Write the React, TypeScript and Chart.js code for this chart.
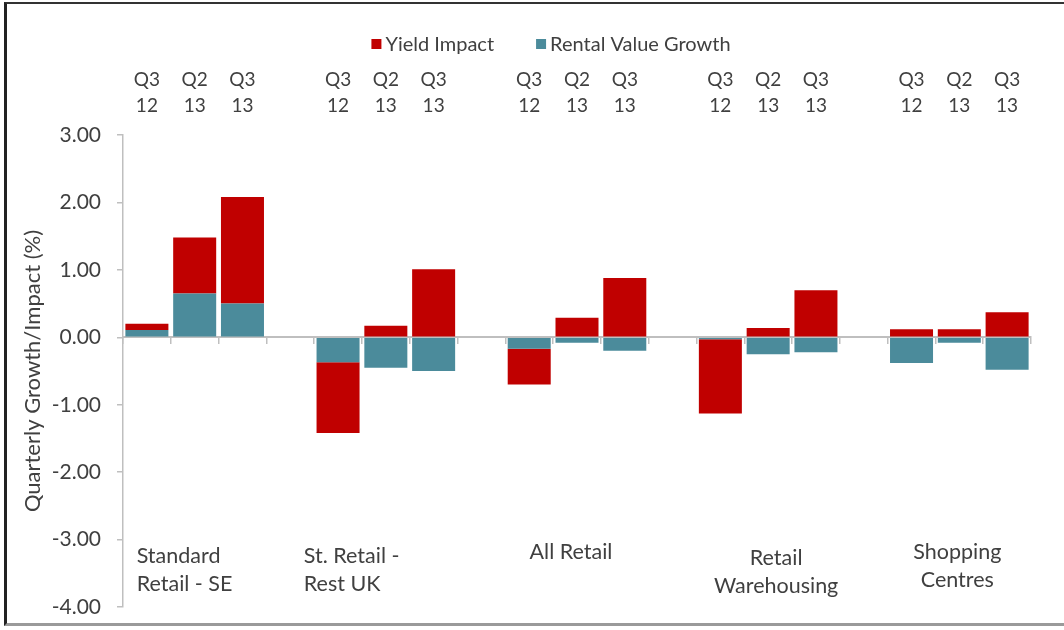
import React, { useEffect, useRef } from 'react';
import { Chart, registerables } from 'chart.js';

Chart.register(...registerables);

// ---- data ----
const periods: string[][] = [['Q3', '12'], ['Q2', '13'], ['Q3', '13']];
const groupNames: string[][] = [
  ['Standard', 'Retail - SE'],
  ['St. Retail -', 'Rest UK'],
  ['All Retail'],
  ['Retail', 'Warehousing'],
  ['Shopping', 'Centres'],
];
// null = blank spacer category between groups
const yieldImpact: (number | null)[] = [
  0.09, 0.83, 1.58, null,
  -1.05, 0.17, 1.01, null,
  -0.53, 0.29, 0.88, null,
  -1.10, 0.14, 0.70, null,
  0.12, 0.12, 0.37,
];
const rentalValueGrowth: (number | null)[] = [
  0.11, 0.65, 0.50, null,
  -0.37, -0.45, -0.50, null,
  -0.17, -0.08, -0.20, null,
  -0.03, -0.25, -0.22, null,
  -0.38, -0.08, -0.48,
];
const yMin = -4;
const yMax = 3;
const yStep = 1;

// ---- styles ----
const FONT = 'Lato';
const TEXT = '#404040';
const AXIS = '#BFBFBF';
const RED = '#C00000';
const TEAL = '#4B8B9B';
const groupLabelStyle = [
  { align: 'left', dx: -58, yVal: -3.24 },
  { align: 'left', dx: -82, yVal: -3.24 },
  { align: 'center', dx: -6, yVal: -3.19 },
  { align: 'center', dx: 8, yVal: -3.27 },
  { align: 'center', dx: -2, yVal: -3.19 },
];
const legendStyle = { centerOffset: -26, y: 44, box: 10, gap: 4, spacing: 42, size: 20 };

// build category labels: 3 periods per group, blank spacer between groups
const labels: (string[] | string)[] = [];
groupNames.forEach((_, gi) => {
  periods.forEach((p) => labels.push(p));
  if (gi < groupNames.length - 1) labels.push('');
});

const groupLabelPlugin = {
  id: 'groupLabels',
  afterDatasetsDraw(chart: any) {
    const { ctx, scales } = chart;
    const x = scales.x;
    const y = scales.y;
    ctx.save();
    ctx.font = `21.5px ${FONT}`;
    ctx.fillStyle = TEXT;
    ctx.textBaseline = 'middle';
    groupNames.forEach((lines, gi) => {
      const st = groupLabelStyle[gi];
      const midIndex = gi * (periods.length + 1) + 1;
      const cx = x.getPixelForValue(midIndex) + st.dx;
      const cy = y.getPixelForValue(st.yVal);
      ctx.textAlign = st.align as CanvasTextAlign;
      lines.forEach((line, li) => {
        ctx.fillText(line, cx, cy + li * 28);
      });
    });
    ctx.restore();
  },
};

const legendPlugin = {
  id: 'customLegend',
  afterDraw(chart: any) {
    const { ctx, chartArea } = chart;
    const items = chart.data.datasets
      .map((d: any) => ({ text: d.label, color: d.backgroundColor }))
      .reverse();
    ctx.save();
    ctx.font = `${legendStyle.size}px ${FONT}`;
    ctx.textBaseline = 'middle';
    ctx.textAlign = 'left';
    const widths = items.map(
      (it: any) => legendStyle.box + legendStyle.gap + ctx.measureText(it.text).width
    );
    const total =
      widths.reduce((a: number, b: number) => a + b, 0) +
      legendStyle.spacing * (items.length - 1);
    let x = (chartArea.left + chartArea.right) / 2 + legendStyle.centerOffset - total / 2;
    const y = legendStyle.y;
    items.forEach((it: any, i: number) => {
      ctx.fillStyle = it.color;
      ctx.fillRect(x, y - legendStyle.box / 2, legendStyle.box, legendStyle.box);
      ctx.fillStyle = TEXT;
      ctx.fillText(it.text, x + legendStyle.box + legendStyle.gap, y + 1);
      x += widths[i] + legendStyle.spacing;
    });
    ctx.restore();
  },
};

export default function App() {
  const canvasRef = useRef<HTMLCanvasElement | null>(null);

  useEffect(() => {
    if (!canvasRef.current) return;
    const chart = new Chart(canvasRef.current, {
      type: 'bar',
      data: {
        labels,
        datasets: [
          {
            label: 'Rental Value Growth',
            data: rentalValueGrowth,
            backgroundColor: TEAL,
            borderWidth: 0,
            barPercentage: 0.9,
            categoryPercentage: 1.0,
          },
          {
            label: 'Yield Impact',
            data: yieldImpact,
            backgroundColor: RED,
            borderWidth: 0,
            barPercentage: 0.9,
            categoryPercentage: 1.0,
          },
        ],
      },
      options: {
        animation: false,
        responsive: false,
        maintainAspectRatio: false,
        layout: { padding: { left: 20, right: 33, top: 51, bottom: 23 } },
        plugins: {
          tooltip: { enabled: false },
          legend: { display: false },
        },
        scales: {
          x: {
            type: 'category',
            position: 'top',
            stacked: true,
            offset: true,
            grid: { display: false, drawTicks: false },
            border: { display: false },
            ticks: {
              color: TEXT,
              font: { family: FONT, size: 19, lineHeight: 1.37 },
              padding: 16,
              maxRotation: 0,
              autoSkip: false,
            },
          },
          xZero: {
            type: 'category',
            position: { y: 0 } as any,
            offset: true,
            afterFit: (s: any) => {
              s.height = 0;
            },
            grid: {
              offset: true,
              drawOnChartArea: false,
              drawTicks: true,
              tickLength: 6,
              color: AXIS,
              lineWidth: 1.5,
            },
            border: { display: true, color: AXIS, width: 2 },
            ticks: { display: false },
          },
          y: {
            min: yMin,
            max: yMax,
            stacked: true,
            position: 'left',
            afterFit: (s: any) => {
              s.width = 103;
              s.paddingTop = 0;
              s.paddingBottom = 0;
            },
            grid: {
              drawOnChartArea: false,
              drawTicks: true,
              tickLength: 6,
              color: AXIS,
              lineWidth: 1.5,
            },
            border: { display: true, color: AXIS, width: 1.5 },
            ticks: {
              stepSize: yStep,
              color: TEXT,
              font: { family: FONT, size: 21 },
              padding: 16,
              callback: (v: any) => Number(v).toFixed(2),
            },
            title: {
              display: true,
              text: 'Quarterly Growth/Impact (%)',
              color: TEXT,
              font: { family: FONT, size: 22 },
              padding: { top: 0, bottom: 0 },
            },
          },
        },
      },
      plugins: [groupLabelPlugin, legendPlugin],
    });
    return () => chart.destroy();
  }, []);

  return (
    <div
      style={{
        position: 'fixed',
        left: 0,
        top: 0,
        width: 1064,
        height: 630,
        background: '#fff',
        overflow: 'hidden',
      }}
    >
      <div
        style={{
          position: 'absolute',
          left: 4,
          top: 2,
          width: 1100,
          height: 619,
          borderTop: '2px solid #333',
          borderLeft: '3px solid #222',
          borderBottom: '3px solid #9a9a9a',
        }}
      />
      <canvas
        ref={canvasRef}
        width={1064}
        height={630}
        style={{ position: 'absolute', left: 0, top: 0, width: 1064, height: 630 }}
      />
    </div>
  );
}
